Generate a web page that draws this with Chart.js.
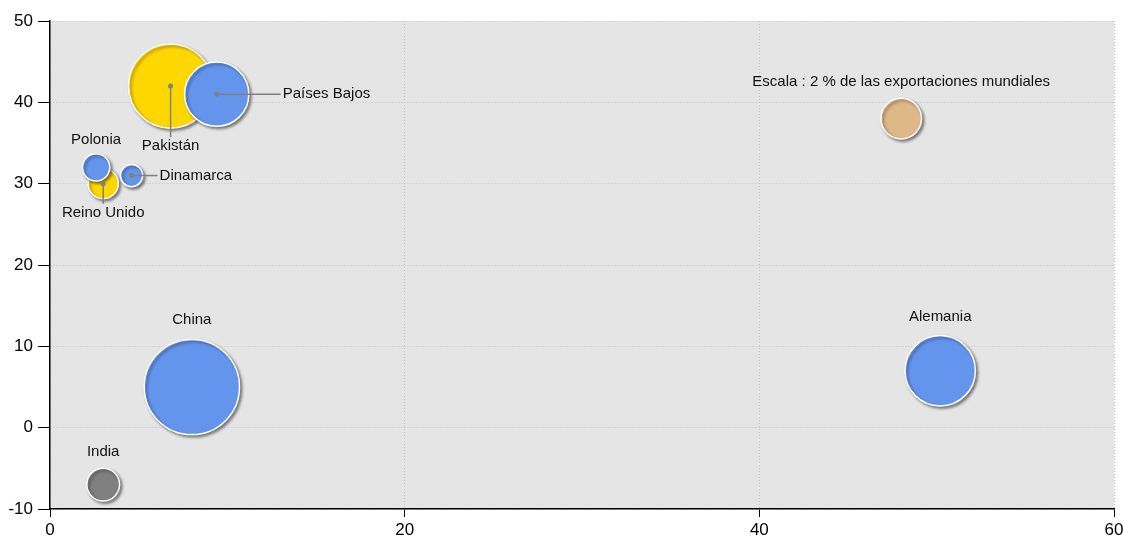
<!DOCTYPE html>
<html>
<head>
<meta charset="utf-8">
<script src="https://cdn.jsdelivr.net/npm/chart.js@4.4.1/dist/chart.umd.min.js"></script>
<style>
html,body{margin:0;padding:0;background:#fff;}
</style>
</head>
<body>
<canvas id="bubble_chart" width="1123" height="538"></canvas>
<script>
var country = ["China", "India", "Pakistán", "Países Bajos", "Reino Unido", "Polonia", "Dinamarca", "Alemania", "Escala : 2 % de las exportaciones mundiales"];
var xValue = [8, 3, 6.8, 9.4, 3, 2.6, 4.6, 50.2, 48];
var yValue = [5, -7, 42, 41, 30, 32, 31, 7, 38];
var share = [11, 1.3, 8.6, 5, 1.1, 0.9, 0.6, 6, 2];   // % of world exports -> bubble area
var xTicks = [0, 20, 40, 60];
var yTicks = [-10, 0, 10, 20, 30, 40, 50];

var color = ["#6495ED", "#808080", "#FFD700", "#6495ED", "#FFD700", "#6495ED", "#6495ED", "#6495ED", "#DEB887"];
// where each name goes, relative to its bubble centre (pixels)
var labelSpot = [
  {dx: 0, dy: -67},
  {dx: 0, dy: -33},
  {dx: 0, dy: 60, lead: true},
  {dx: 66, dy: 0, lead: true, left: true},
  {dx: 0, dy: 29, lead: true},
  {dx: 0, dy: -28},
  {dx: 28, dy: 0, lead: true, left: true},
  {dx: 0, dy: -54},
  {dx: 0, dy: -37}
];
var sizeScale = 20.3; // radius (px) of the 2 % bubble

var points = country.map(function (c, i) {
  return {x: xValue[i], y: yValue[i], r: sizeScale * Math.sqrt(share[i] / 2)};
});

var plotBack = {
  id: 'plotBack',
  beforeDraw: function (chart) {
    var a = chart.chartArea, ctx = chart.ctx;
    ctx.save();
    ctx.fillStyle = '#E5E5E5';
    ctx.fillRect(a.left, a.top, a.right - a.left, a.bottom - a.top);
    ctx.restore();
  }
};

var shadow = {
  id: 'shadow',
  beforeDatasetsDraw: function (chart) {
    var ctx = chart.ctx;
    ctx.save();
    ctx.shadowColor = 'rgba(0,0,0,0.45)';
    ctx.shadowBlur = 3;
    ctx.shadowOffsetX = 2;
    ctx.shadowOffsetY = 2;
  },
  afterDatasetsDraw: function (chart) {
    chart.ctx.restore();
  }
};

var names = {
  id: 'names',
  afterDraw: function (chart) {
    var ctx = chart.ctx;
    var els = chart.getDatasetMeta(0).data;
    ctx.save();
    ctx.font = '15px "Liberation Sans", Arial, sans-serif';
    ctx.textBaseline = 'middle';
    els.forEach(function (el, i) {
      var s = labelSpot[i];
      var tx = el.x + s.dx, ty = el.y + s.dy;
      if (s.lead) {
        ctx.strokeStyle = '#808080';
        ctx.fillStyle = '#808080';
        ctx.lineWidth = 1.5;
        ctx.beginPath();
        ctx.moveTo(el.x, el.y);
        if (s.left) ctx.lineTo(tx - 2, ty);
        else ctx.lineTo(tx, ty + (s.dy > 0 ? -9 : 9));
        ctx.stroke();
        ctx.beginPath();
        ctx.arc(el.x, el.y, 2.5, 0, Math.PI * 2);
        ctx.fill();
      }
      ctx.fillStyle = '#111';
      ctx.textAlign = s.left ? 'left' : 'center';
      ctx.fillText(country[i], tx, ty);
    });
    ctx.restore();
  }
};

function create_Bubble() {
  new Chart(document.getElementById("bubble_chart"), {
    type: 'bubble',
    data: {
      labels: country,
      datasets: [{
        data: points,
        backgroundColor: color,
        borderColor: '#FFFFFF',
        borderWidth: 1.5
      }]
    },
    plugins: [plotBack, shadow, names],
    options: {
      responsive: false,
      animation: false,
      events: [],
      layout: { autoPadding: false, padding: { top: 21, right: 9, left: 0, bottom: 0 } },
      plugins: { legend: { display: false }, tooltip: { enabled: false } },
      scales: {
        x: {
          type: 'linear', min: 0, max: 60,
          afterBuildTicks: function (s) { s.ticks = xTicks.map(function (v) { return {value: v}; }); },
          afterFit: function (s) { s.height = 29; s.paddingLeft = 0; s.paddingRight = 0; },
          grid: { color: '#C4C4C4', tickColor: '#000', tickLength: 8, tickBorderDash: [] },
          border: { display: true, color: '#000', width: 1.5, dash: [1, 2] },
          ticks: { color: '#000', padding: 3, font: { family: '"Liberation Sans", Arial, sans-serif', size: 17 } }
        },
        y: {
          type: 'linear', min: -10, max: 50,
          afterBuildTicks: function (s) { s.ticks = yTicks.map(function (v) { return {value: v}; }); },
          afterFit: function (s) { s.width = 50; s.paddingTop = 0; s.paddingBottom = 0; },
          grid: { color: '#C4C4C4', tickColor: '#000', tickLength: 12, tickBorderDash: [] },
          border: { display: true, color: '#000', width: 1.5, dash: [1, 2] },
          ticks: { color: '#000', padding: 5, font: { family: '"Liberation Sans", Arial, sans-serif', size: 17 } }
        }
      }
    }
  });
}

document.addEventListener('DOMContentLoaded', create_Bubble);
</script>
</body>
</html>
